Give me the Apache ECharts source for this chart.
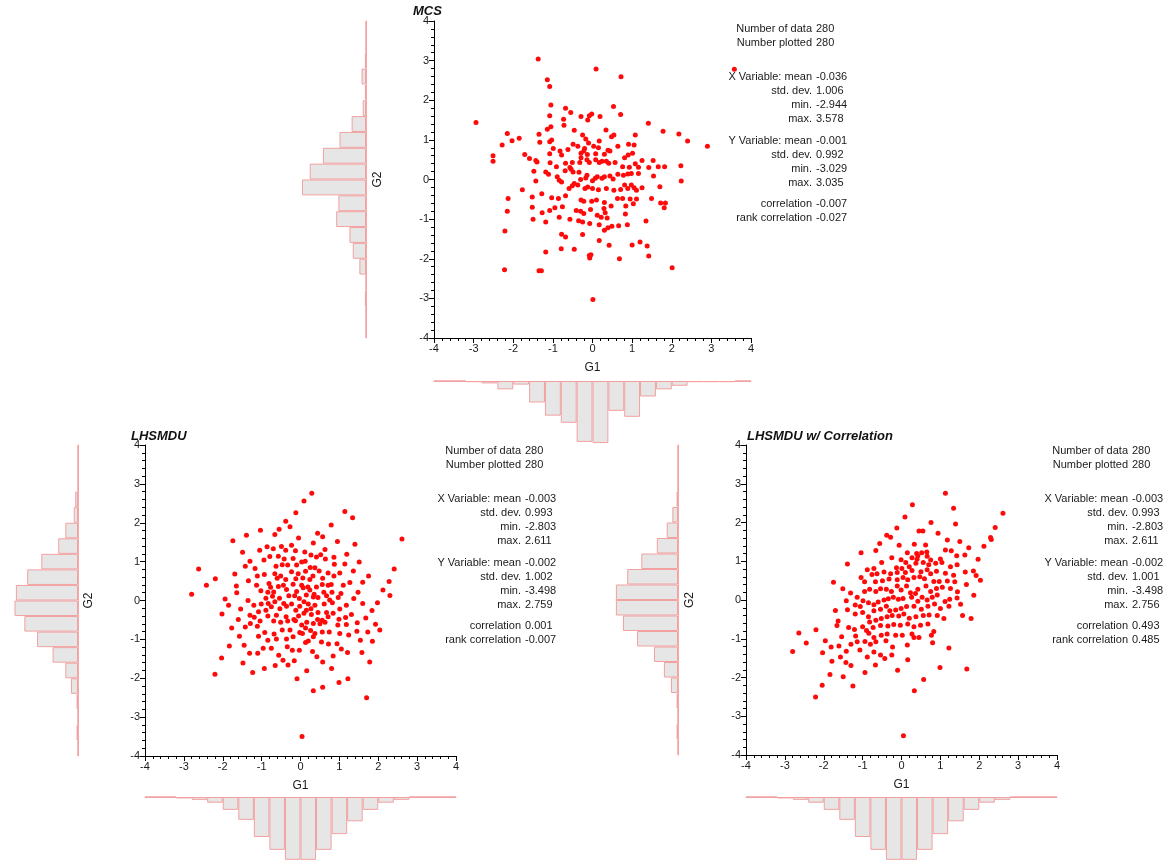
<!DOCTYPE html>
<html><head><meta charset="utf-8">
<script src="https://cdn.jsdelivr.net/npm/echarts@6/dist/echarts.min.js"></script>
<style>html,body{margin:0;padding:0;background:#fff}#c{width:1175px;height:866px}</style>
</head><body><div id="c"></div>
<script>
// ---------- DATA ----------
const mcsPoints = [[-1.37,3.04],[0.09,2.79],[0.72,2.59],[3.58,2.78],[-1.14,2.52],[-1.08,2.35],[-1.05,1.88],[0.53,1.84],[-2.94,1.44],[-2.15,1.16],[-2.03,0.98],[-2.28,0.87],[2.90,0.84],[-2.51,0.60],[-2.51,0.46],[-2.13,-0.48],[-2.15,-0.80],[-2.21,-1.30],[2.01,-2.23],[-2.22,-2.28],[-1.35,-2.30],[-1.29,-2.30],[0.01,-3.03],[-0.07,-1.98],[-0.04,-1.90],
[-1.08,1.61],[-0.68,1.80],[-0.55,1.69],[-0.29,1.59],[-0.08,1.61],[-0.02,1.65],[-0.12,1.50],[0.19,1.59],[0.71,1.64],[-0.73,1.52],[-0.72,1.37],[1.41,1.42],[-1.05,1.33],[-1.14,1.27],[-0.46,1.24],[-0.25,1.12],[-0.17,1.02],[0.34,1.25],[0.48,1.08],[0.54,1.12],[1.78,1.22],[2.18,1.15],[2.40,0.97],[-1.35,1.14],[-1.33,0.94],[-1.08,0.95],[-1.03,1.00],[-1.85,1.04],[-0.49,0.89],[-0.37,0.84],[-0.10,0.92],[-0.20,0.78],[0.03,0.84],[0.17,0.97],[0.15,0.80],[0.39,0.74],[0.44,0.72],[0.64,0.84],[0.91,0.89],[1.05,0.87],[1.08,1.12],[-0.99,0.78],[-0.82,0.72],[-0.62,0.76],[-1.71,0.63],[-1.59,0.53],[-1.43,0.48],[-1.40,0.44],[-1.48,0.21],[-1.08,0.65],[-0.78,0.62],[-0.29,0.66],[-0.22,0.72],[-0.13,0.63],[0.08,0.65],[0.30,0.64],[0.81,0.55],[0.90,0.62],[1.01,0.66],[1.25,0.48],[1.53,0.48],[1.66,0.32],[1.82,0.32],[2.23,0.35],[2.24,-0.04],[-1.07,0.42],[-0.91,0.32],[-0.68,0.41],[-0.51,0.43],[-0.57,0.30],[-0.32,0.43],[-0.29,0.55],[-0.14,0.50],[-0.08,0.43],[0.08,0.50],[0.17,0.43],[0.24,0.46],[0.35,0.46],[0.41,0.41],[0.57,0.43],[0.76,0.32],[0.93,0.31],[1.08,0.40],[1.16,0.31],[1.42,0.30],[1.54,0.09],[-1.18,0.19],[-1.11,0.13],[-0.89,0.07],[-0.84,-0.02],[-0.69,0.22],[-0.54,0.26],[-0.49,0.19],[-0.34,0.18],[-0.30,0.00],[-0.17,0.04],[-0.14,0.11],[0.00,-0.03],[0.07,0.03],[0.12,0.07],[0.24,0.03],[0.30,0.07],[0.44,0.09],[0.52,0.01],[0.64,0.13],[0.78,0.11],[0.89,0.14],[0.98,0.15],[1.16,0.15],[-1.43,-0.04],[-0.78,-0.06],[-0.59,-0.23],[-0.51,-0.16],[-0.46,-0.10],[-0.37,-0.14],[-0.19,-0.23],[-0.12,-0.19],[0.00,-0.23],[0.15,-0.26],[0.35,-0.23],[0.54,-0.27],[0.71,-0.25],[0.81,-0.14],[0.89,-0.23],[0.98,-0.14],[1.05,-0.21],[1.11,-0.27],[1.25,-0.21],[1.70,-0.18],[-1.77,-0.26],[-1.52,-0.44],[-1.28,-0.36],[-1.03,-0.46],[-0.86,-0.48],[-0.68,-0.41],[-0.29,-0.52],[-0.22,-0.55],[-0.02,-0.55],[0.10,-0.52],[0.30,-0.58],[0.47,-0.67],[0.63,-0.48],[0.76,-0.48],[0.95,-0.49],[1.11,-0.49],[1.49,-0.48],[1.72,-0.59],[1.84,-0.59],[1.81,-0.71],[-1.52,-0.70],[-1.08,-0.78],[-0.95,-0.71],[-0.76,-0.69],[-0.41,-0.78],[-0.30,-0.80],[-0.22,-0.86],[-0.05,-0.76],[0.12,-0.90],[0.29,-0.73],[0.32,-0.84],[0.37,-0.97],[0.84,-0.67],[1.03,-0.61],[0.83,-0.87],[-1.50,-1.00],[-1.27,-0.84],[-1.18,-1.07],[-0.84,-0.95],[-0.57,-1.00],[-0.35,-1.04],[-0.25,-1.07],[-0.07,-1.11],[0.17,-1.14],[0.22,-0.95],[0.30,-1.28],[0.39,-1.22],[0.49,-1.18],[0.66,-1.17],[0.88,-1.14],[1.35,-1.05],[-0.78,-1.38],[-0.68,-1.45],[-0.25,-1.39],[0.42,-1.66],[0.17,-1.54],[1.00,-1.65],[1.20,-1.58],[1.38,-1.68],[-1.18,-1.83],[-0.79,-1.75],[-0.46,-1.76],[-0.08,-1.92],[0.68,-2.00],[1.42,-1.93]];

const lhsPoints = [[0.29,2.76],[0.09,2.56],[1.14,2.29],[1.34,2.13],[-0.12,2.26],[-0.38,2.04],[-0.27,1.90],[-0.55,1.83],[-1.03,1.81],[0.79,1.94],[-0.66,1.70],[-1.39,1.68],[-1.74,1.54],[0.44,1.73],[0.57,1.64],[-0.05,1.61],[2.61,1.58],[0.95,1.52],[0.33,1.48],[1.40,1.45],[-0.23,1.42],[-0.49,1.39],[-0.86,1.38],[-0.70,1.33],[-1.05,1.29],[-1.49,1.24],[0.63,1.31],[0.11,1.25],[-0.13,1.28],[-0.38,1.29],[1.19,1.19],[0.27,1.17],[0.41,1.12],[0.52,1.18],[0.86,1.11],[-0.57,1.14],[-0.79,1.13],[-1.30,1.01],[-0.94,1.04],[-0.42,1.07],[-0.19,1.08],[0.03,0.99],[0.12,1.01],[-0.10,0.91],[1.51,0.99],[1.14,0.94],[0.87,0.93],[0.64,1.07],[-1.42,0.88],[-1.17,0.82],[-0.63,0.88],[-0.47,0.92],[-0.33,0.91],[0.25,0.85],[0.37,0.84],[-2.62,0.81],[2.41,0.81],[0.48,0.76],[0.71,0.71],[1.01,0.71],[1.36,0.76],[1.75,0.63],[-1.69,0.68],[-1.11,0.63],[-0.93,0.67],[-0.66,0.69],[-0.51,0.63],[-0.23,0.74],[-0.06,0.69],[0.06,0.58],[0.13,0.75],[0.32,0.63],[-2.19,0.56],[-1.34,0.51],[-0.81,0.44],[-0.60,0.57],[-0.38,0.54],[-0.12,0.56],[0.24,0.54],[0.57,0.57],[0.86,0.63],[0.79,0.41],[1.27,0.46],[1.60,0.47],[2.28,0.49],[-2.42,0.39],[-1.65,0.37],[-1.13,0.39],[-0.77,0.34],[-0.57,0.36],[-0.44,0.39],[-0.19,0.42],[0.03,0.39],[0.19,0.35],[0.41,0.35],[0.56,0.41],[0.71,0.39],[1.10,0.39],[2.12,0.27],[-1.64,0.20],[-2.80,0.16],[-1.35,0.00],[-1.02,0.25],[-0.84,0.21],[-0.69,0.22],[-0.36,0.28],[-0.10,0.23],[0.07,0.33],[0.24,0.27],[0.35,0.16],[0.60,0.21],[0.81,0.21],[1.04,0.18],[1.48,0.21],[2.30,0.13],[-1.94,0.04],[-0.89,0.06],[-0.72,0.11],[-0.54,0.06],[-0.30,0.12],[-0.15,0.12],[-0.03,0.05],[0.15,0.14],[0.33,0.09],[0.45,0.08],[0.67,0.12],[0.75,0.01],[0.97,0.08],[1.37,0.05],[1.60,-0.08],[1.98,-0.06],[-1.85,-0.12],[-1.20,-0.12],[-1.01,-0.09],[-0.83,-0.08],[-0.66,-0.03],[-0.43,-0.08],[-0.23,-0.09],[0.09,-0.03],[0.20,-0.09],[0.37,-0.12],[0.61,-0.09],[0.82,-0.06],[1.01,-0.22],[1.18,-0.12],[-2.02,-0.35],[-1.54,-0.22],[-1.30,-0.38],[-1.08,-0.29],[-0.89,-0.25],[-0.75,-0.16],[-0.53,-0.21],[-0.36,-0.15],[-0.12,-0.25],[-0.02,-0.15],[0.15,-0.25],[0.27,-0.21],[0.45,-0.31],[0.67,-0.31],[0.84,-0.33],[1.16,-0.44],[1.31,-0.36],[1.68,-0.45],[1.84,-0.26],[-1.60,-0.49],[-1.19,-0.43],[-1.04,-0.53],[-0.84,-0.40],[-0.62,-0.38],[-0.37,-0.42],[-0.17,-0.49],[-0.05,-0.40],[0.09,-0.33],[0.28,-0.36],[0.44,-0.49],[0.56,-0.51],[0.71,-0.42],[0.99,-0.48],[-1.77,-0.71],[-1.42,-0.68],[-1.29,-0.59],[-1.11,-0.66],[-0.69,-0.53],[-0.51,-0.56],[-0.33,-0.53],[-0.13,-0.52],[0.03,-0.63],[0.16,-0.56],[0.33,-0.59],[0.50,-0.60],[0.63,-0.56],[0.96,-0.63],[1.18,-0.62],[1.46,-0.57],[1.93,-0.61],[2.04,-0.76],[-1.57,-0.92],[-1.08,-0.92],[-0.92,-0.82],[-0.68,-0.86],[-0.47,-0.76],[-0.27,-0.76],[-0.02,-0.82],[0.13,-0.71],[0.26,-0.77],[0.37,-0.85],[0.56,-0.81],[0.74,-0.81],[1.01,-0.85],[1.24,-0.89],[1.45,-0.79],[1.73,-0.81],[-1.83,-1.17],[-1.45,-1.15],[-1.31,-1.36],[-0.84,-1.02],[-0.62,-0.99],[-0.36,-0.99],[-0.19,-0.93],[0.05,-0.85],[0.33,-0.93],[0.20,-1.04],[0.13,-1.08],[0.54,-1.07],[0.72,-1.12],[0.94,-1.11],[1.05,-1.25],[1.54,-1.02],[1.85,-1.05],[-2.03,-1.48],[-1.48,-1.61],[-1.10,-1.36],[-0.96,-1.23],[-0.75,-1.23],[-0.34,-1.19],[-0.21,-1.28],[-0.03,-1.28],[0.31,-1.31],[0.42,-1.45],[0.84,-1.43],[1.21,-1.34],[1.58,-1.34],[-1.23,-1.85],[-0.93,-1.75],[-0.65,-1.67],[-0.56,-1.41],[-0.45,-1.54],[-0.32,-1.66],[-0.16,-1.55],[0.16,-1.81],[0.57,-1.58],[0.80,-1.75],[1.78,-1.58],[-2.20,-1.90],[-0.09,-2.01],[0.33,-2.32],[0.57,-2.23],[0.99,-2.11],[1.22,-2.01],[1.70,-2.50],[0.04,-3.50]];

const lhsCorrPoints = [[1.13,2.756],[1.34,2.37],[0.28,2.46],[2.61,2.24],[2.41,1.87],[2.29,1.61],[2.31,1.56],[2.12,1.39],[-2.64,-0.85],[-2.20,-0.77],[-2.45,-1.11],[-1.96,-1.05],[-2.80,-1.33],[-2.03,-1.36],[-1.43,-1.61],[-1.30,-1.69],[-1.79,-1.58],[-1.84,-1.92],[-1.50,-1.98],[-1.25,-2.22],[-0.94,-1.87],[-0.67,-1.68],[-0.10,-1.81],[0.99,-1.74],[1.68,-1.78],[-2.04,-2.20],[-2.21,-2.50],[0.33,-2.34],[0.57,-2.05],[0.05,-3.50],
[0.09,2.14],[0.76,2.00],[1.39,1.96],[-0.12,1.86],[0.45,1.78],[0.55,1.78],[0.94,1.72],[-0.38,1.67],[-0.28,1.62],[1.18,1.55],[1.50,1.51],[-0.56,1.46],[-0.06,1.41],[0.33,1.44],[0.62,1.42],[1.73,1.35],[-1.04,1.22],[-0.66,1.28],[0.15,1.22],[0.39,1.20],[0.52,1.22],[0.65,1.24],[1.13,1.29],[1.28,1.27],[-1.39,0.93],[-0.51,0.97],[-0.25,1.09],[-0.01,1.04],[0.27,1.09],[0.42,1.14],[0.66,1.13],[0.75,1.03],[1.00,1.06],[1.42,1.14],[1.63,1.16],[1.97,1.05],[-0.71,0.81],[-0.88,0.78],[-0.13,0.83],[0.01,0.81],[0.20,0.86],[0.37,0.95],[0.56,0.97],[0.70,0.91],[0.88,0.95],[1.04,0.97],[0.11,0.97],[0.40,1.05],[1.26,0.86],[1.43,0.91],[1.64,0.72],[1.85,0.75],[-1.04,0.58],[-0.76,0.66],[-0.63,0.68],[-0.45,0.72],[-0.28,0.68],[-0.11,0.71],[0.10,0.71],[0.27,0.76],[0.50,0.73],[0.66,0.78],[0.75,0.68],[0.90,0.74],[1.13,0.69],[1.34,0.64],[1.92,0.63],[2.03,0.51],[-1.75,0.46],[-1.51,0.29],[-0.95,0.47],[-0.67,0.47],[-0.49,0.50],[-0.32,0.54],[-0.11,0.52],[0.04,0.58],[0.16,0.52],[0.32,0.58],[0.47,0.60],[0.59,0.55],[0.83,0.48],[0.97,0.48],[1.18,0.49],[1.37,0.47],[1.67,0.40],[-1.31,0.18],[-1.14,0.07],[-0.95,0.22],[-0.82,0.28],[-0.66,0.22],[-0.54,0.29],[-0.39,0.28],[-0.26,0.22],[-0.11,0.36],[-0.01,0.26],[0.13,0.36],[0.23,0.19],[0.36,0.17],[0.42,0.28],[0.63,0.36],[0.75,0.22],[0.90,0.30],[1.05,0.33],[1.26,0.30],[1.44,0.21],[1.86,0.12],[-1.42,-0.02],[-1.19,-0.13],[-1.06,-0.17],[-0.99,-0.02],[-0.85,-0.07],[-0.71,-0.12],[-0.60,-0.05],[-0.45,0.00],[-0.34,0.03],[-0.21,0.07],[-0.08,0.02],[0.04,0.04],[0.26,0.07],[0.42,-0.03],[0.53,0.07],[0.66,0.00],[0.79,0.07],[0.92,0.13],[1.12,-0.04],[1.24,0.02],[1.43,0.05],[-1.70,-0.27],[-1.39,-0.25],[-1.19,-0.36],[-1.00,-0.32],[-0.85,-0.43],[-0.71,-0.28],[-0.54,-0.24],[-0.39,-0.16],[-0.30,-0.28],[-0.15,-0.26],[-0.01,-0.22],[0.13,-0.17],[0.32,-0.16],[0.51,-0.24],[0.68,-0.16],[0.85,-0.10],[1.00,-0.22],[1.22,-0.16],[1.52,-0.11],[-1.63,-0.54],[-1.66,-0.66],[-0.82,-0.57],[-0.66,-0.52],[-0.52,-0.48],[-0.37,-0.43],[-0.24,-0.40],[-0.07,-0.41],[0.06,-0.36],[0.20,-0.47],[0.37,-0.43],[0.56,-0.40],[0.71,-0.39],[0.92,-0.40],[1.09,-0.48],[1.57,-0.40],[1.79,-0.48],[-1.36,-0.71],[-1.21,-0.76],[-1.00,-0.69],[-0.90,-0.79],[-0.73,-0.71],[-0.54,-0.66],[-0.35,-0.67],[-0.20,-0.63],[-0.03,-0.65],[0.16,-0.62],[0.32,-0.69],[0.49,-0.65],[0.68,-0.62],[0.83,-0.81],[-1.54,-0.95],[-1.18,-0.93],[-0.84,-0.86],[-0.71,-0.97],[-0.52,-0.91],[-0.37,-0.88],[-0.15,-0.91],[0.02,-0.91],[0.27,-0.88],[0.32,-0.97],[0.45,-0.97],[0.77,-0.91],[-1.81,-1.21],[-1.61,-1.19],[-1.42,-1.32],[-1.30,-1.14],[-1.14,-1.08],[-0.94,-1.07],[-0.80,-1.14],[-0.66,-1.08],[-0.40,-1.05],[-0.23,-1.21],[0.15,-1.16],[0.80,-1.10],[1.22,-1.24],[-1.57,-1.47],[-1.07,-1.29],[-0.88,-1.47],[-0.71,-1.34],[-0.54,-1.42],[-0.43,-1.51],[-0.25,-1.42],[0.16,-1.54]];

// histogram bins: 20 bins of width 0.4 from -4 to 4 (labels = bin start)
const binCategories = ['-4.0','-3.6','-3.2','-2.8','-2.4','-2.0','-1.6','-1.2','-0.8','-0.4','0.0','0.4','0.8','1.2','1.6','2.0','2.4','2.8','3.2','3.6'];
const mcsHistG1 = [0,0,1,2,7,3,18,29,35,51,52,25,30,13,7,4,1,1,1,0];
const mcsHistG2 = [0,0,1,0,6,12,15,27,25,58,51,39,24,13,3,1,4,1,0,0];
const lhsHistG1 = [0,0,1,2,4,9,16,28,37,44,44,37,26,17,9,4,2,0,0,0];
const lhsHistG2 = [0,1,0,1,5,9,18,29,38,45,44,36,26,14,9,3,2,0,0,0];
const corrHistG1 = [0,0,1,2,4,9,16,28,37,44,44,37,26,17,9,4,2,0,0,0];
const corrHistG2 = [0,1,0,1,5,10,17,29,39,44,44,36,26,15,8,4,1,0,0,0];

const axisTicks = [-4,-3,-2,-1,0,1,2,3,4];
const titles = ['MCS','LHSMDU','LHSMDU w/ Correlation'];
const statLabels = ['Number of data','Number plotted','X Variable: mean','std. dev.','min.','max.','Y Variable: mean','std. dev.','min.','max.','correlation','rank correlation'];
const mcsStats = ['280','280','-0.036','1.006','-2.944','3.578','-0.001','0.992','-3.029','3.035','-0.007','-0.027'];
const lhsStats = ['280','280','-0.003','0.993','-2.803','2.611','-0.002','1.002','-3.498','2.759','0.001','-0.007'];
const corrStats = ['280','280','-0.003','0.993','-2.803','2.611','-0.002','1.001','-3.498','2.756','0.493','0.485'];

// ---------- LAYOUT ----------
const FONT = "'Liberation Sans', Arial, Helvetica, sans-serif";
const TXT = '#1a1a1a';
const statRowOffsets = [0,14,48,62,76,90,112,126,140,154,175,189];
const panels = [
  {title:titles[0], pts:mcsPoints, hx:mcsHistG1, hy:mcsHistG2, stats:mcsStats,
   sc:{left:434, top:21, w:317, h:317}, bh:{top:381, h:80, max:67}, sh:{right:366, w:80, max:72.5},
   titleX:413, titleY:12, statX:812, statY:29},
  {title:titles[1], pts:lhsPoints, hx:lhsHistG1, hy:lhsHistG2, stats:lhsStats,
   sc:{left:145, top:445, w:311, h:311}, bh:{top:797, h:69, max:48.3}, sh:{right:78, w:70, max:49.6},
   titleX:131, titleY:437, statX:521, statY:451},
  {title:titles[2], pts:lhsCorrPoints, hx:corrHistG1, hy:corrHistG2, stats:corrStats,
   sc:{left:746, top:445, w:311, h:310}, bh:{top:797, h:69, max:48.3}, sh:{right:678, w:70, max:49.6},
   titleX:747, titleY:437, statX:1128, statY:451}
];

const grid = [], xAxis = [], yAxis = [], series = [], graphic = [];
const PINK = '#f3a9a9';
const histBar = {color:'#e6e6e6', borderColor:'#f2a0a0', borderWidth:1};

function scatterAxis(gi, name, gap) {
  return {
    gridIndex: gi, type:'value', min:axisTicks[0], max:axisTicks[axisTicks.length-1], interval:1,
    axisLine:{onZero:false, lineStyle:{color:'#000', width:1}},
    axisTick:{show:true, inside:false, length:5, lineStyle:{color:'#000'}},
    minorTick:{show:true, splitNumber:5, length:3, lineStyle:{color:'#000'}},
    splitLine:{show:false}, minorSplitLine:{show:false},
    axisLabel:{color:TXT, fontSize:11, fontFamily:FONT, margin:5},
    name:name, nameLocation:'middle', nameGap:gap,
    nameTextStyle:{color:TXT, fontSize:12, fontFamily:FONT}
  };
}

panels.forEach(function(p){
  // scatter
  let gi = grid.length;
  grid.push({left:p.sc.left, top:p.sc.top, width:p.sc.w, height:p.sc.h, containLabel:false});
  xAxis.push(scatterAxis(gi,'G1',24));
  yAxis.push(scatterAxis(gi,'G2',50));
  series.push({type:'scatter', xAxisIndex:xAxis.length-1, yAxisIndex:yAxis.length-1,
    data:p.pts, symbolSize:5, itemStyle:{color:'#ff0a0a', opacity:1}, silent:true});

  // bottom histogram (G1)
  gi = grid.length;
  grid.push({left:p.sc.left, top:p.bh.top, width:p.sc.w, height:p.bh.h});
  xAxis.push({gridIndex:gi, type:'category', data:binCategories, position:'top', boundaryGap:true,
    axisLine:{show:true, onZero:false, lineStyle:{color:PINK}}, axisTick:{show:false}, axisLabel:{show:false}, splitLine:{show:false}});
  yAxis.push({gridIndex:gi, type:'value', inverse:true, min:0, max:p.bh.max, show:false, splitLine:{show:false}});
  series.push({type:'bar', xAxisIndex:xAxis.length-1, yAxisIndex:yAxis.length-1, data:p.hx,
    barCategoryGap:'0%', itemStyle:histBar, silent:true});

  // side histogram (G2)
  gi = grid.length;
  grid.push({left:p.sh.right - p.sh.w, top:p.sc.top, width:p.sh.w, height:p.sc.h});
  yAxis.push({gridIndex:gi, type:'category', data:binCategories, position:'right', boundaryGap:true,
    axisLine:{show:true, onZero:false, lineStyle:{color:PINK}}, axisTick:{show:false}, axisLabel:{show:false}, splitLine:{show:false}});
  xAxis.push({gridIndex:gi, type:'value', inverse:true, min:0, max:p.sh.max, show:false, splitLine:{show:false}});
  series.push({type:'bar', xAxisIndex:xAxis.length-1, yAxisIndex:yAxis.length-1, data:p.hy,
    barCategoryGap:'0%', itemStyle:histBar, silent:true});

  // title
  graphic.push({type:'text', left:p.titleX, top:p.titleY-7,
    style:{text:p.title, fill:'#111', font:'italic bold 13px ' + FONT}});

  // stats block
  statLabels.forEach(function(lab, i){
    graphic.push({type:'text', x:p.statX, y:p.statY + statRowOffsets[i],
      style:{text:lab, fill:TXT, font:'11px ' + FONT, textAlign:'right', textVerticalAlign:'middle'}});
    graphic.push({type:'text', x:p.statX + 4, y:p.statY + statRowOffsets[i],
      style:{text:p.stats[i], fill:TXT, font:'11px ' + FONT, textAlign:'left', textVerticalAlign:'middle'}});
  });
});

const chart = echarts.init(document.getElementById('c'), null, {renderer:'canvas'});
chart.setOption({animation:false, backgroundColor:'#fff', grid:grid, xAxis:xAxis, yAxis:yAxis, series:series, graphic:graphic});
</script>
</body></html>
